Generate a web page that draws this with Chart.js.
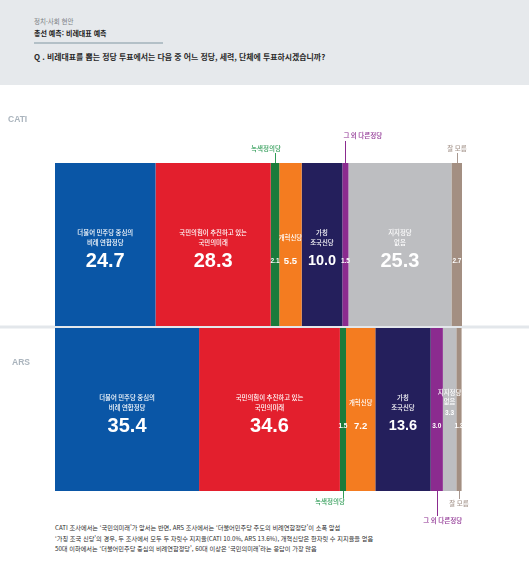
<!DOCTYPE html>
<html lang="ko">
<head>
<meta charset="utf-8">
<script src="https://cdn.jsdelivr.net/npm/chart.js@4.4.1/dist/chart.umd.min.js"></script>
<style>
  html, body { margin: 0; padding: 0; background: #fff; }
  body { width: 529px; height: 564px; position: relative; overflow: hidden; font-family: "Noto Sans CJK KR", sans-serif; }
  .band { position: absolute; left: 0; top: 0; width: 529px; height: 85px; background: #e6e9ec; }
  .t { position: absolute; white-space: nowrap; line-height: 1; }
  .cat { left: 34px; top: 18px; font-size: 6.5px; color: #7b7f84; }
  .title { left: 34px; top: 30px; font-size: 7px; font-weight: 700; color: #1b1b1b; }
  .rule { position: absolute; left: 34px; top: 42px; width: 129px; height: 2px; background: #b3c0c7; }
  .q { left: 34px; top: 53px; font-size: 7.9px; font-weight: 700; color: #2a2a2a; }
  .note { left: 55px; font-size: 6.2px; color: #2a2a2a; }
  #wrap { position: absolute; left: 0; top: 0; width: 529px; height: 564px; }
</style>
</head>
<body>
<div class="band"></div>
<div class="t cat">정치·사회 현안</div>
<div class="t title">총선 예측: 비례대표 예측</div>
<div class="rule"></div>
<div class="t q">Q . 비례대표를 뽑는 정당 투표에서는 다음 중 어느 정당, 세력, 단체에 투표하시겠습니까?</div>
<div class="t note" style="top:525px">CATI 조사에서는 ‘국민의미래’가 앞서는 반면, ARS 조사에서는 ‘더불어민주당 주도의 비례연합정당’이 소폭 앞섬</div>
<div class="t note" style="top:536px">‘가칭 조국 신당’의 경우, 두 조사에서 모두 두 자릿수 지지율(CATI 10.0%, ARS 13.6%), 개혁신당은 한자릿 수 지지율을 얻음</div>
<div class="t note" style="top:546px">50대 이하에서는 ‘더불어민주당 중심의 비례연합정당’, 60대 이상은 ‘국민의미래’라는 응답이 가장 많음</div>
<div id="wrap"><canvas id="chart"></canvas></div>
<script>
// 조사 방식
const surveys = ['CATI', 'ARS'];

// 정당 (안쪽 라벨은 줄 단위)
const parties = ['더불어 민주당 중심의 비례 연합정당', '국민의힘이 추진하고 있는 국민의미래', '녹색정의당', '개혁신당', '가칭 조국신당', '그 외 다른정당', '지지정당 없음', '잘 모름'];
const insideNames = [
  ['더불어 민주당 중심의', '비례 연합정당'],
  ['국민의힘이 추진하고 있는', '국민의미래'],
  null,
  ['개혁신당'],
  ['가칭', '조국신당'],
  null,
  ['지지정당', '없음'],
  null
];

const catiValues = [24.7, 28.3, 2.1, 5.5, 10.0, 1.5, 25.3, 2.7];
const arsValues = [35.4, 34.6, 1.5, 7.2, 13.6, 3.0, 3.3, 1.3];

const partyColors = ['#0a56a6', '#e31f2d', '#1b7b3b', '#f47c20', '#241f5c', '#8b2b8f', '#bdbec1', '#a38f82'];

// 바깥 라벨 (녹색정의당, 그 외 다른정당, 잘 모름)
const calloutColors = { 2: '#2f9c56', 5: '#8b2b8f', 7: '#a89890' };

const KR = '"Noto Sans CJK KR", sans-serif';
const NUM = '"Liberation Sans", Arial, sans-serif';

function valueFont(v) {
  if (v >= 20) return 'bold 20px ' + NUM;
  if (v >= 10) return 'bold 14.5px ' + NUM;
  if (v >= 5) return 'bold 9.5px ' + NUM;
  return 'bold 6.5px ' + NUM;
}

const barLabels = {
  id: 'barLabels',
  beforeDatasetsDraw(chart) {
    const ctx = chart.ctx;
    const bars = chart.getDatasetMeta(0).data;
    const b0 = bars[0].y + bars[0].height / 2;
    const t1 = bars[1].y - bars[1].height / 2;
    ctx.save();
    ctx.fillStyle = '#e3e7eb';
    ctx.fillRect(0, (b0 + t1) / 2 - 1.5, chart.width, 3);
    ctx.font = 'bold 8.5px ' + NUM;
    ctx.fillStyle = '#aab4bd';
    ctx.textBaseline = 'middle';
    ctx.textAlign = 'left';
    ctx.fillText(surveys[0], 8, bars[0].y - bars[0].height / 2 - 43);
    ctx.fillText(surveys[1], 12, bars[1].y - bars[1].height / 2 + 35);
    ctx.restore();
  },
  afterDatasetsDraw(chart) {
    const ctx = chart.ctx;
    ctx.save();
    ctx.textBaseline = 'middle';
    chart.data.datasets.forEach((ds, i) => {
      const meta = chart.getDatasetMeta(i);
      meta.data.forEach((bar, j) => {
        const p = bar.getProps(['x', 'y', 'base', 'height'], true);
        const cx = (p.x + p.base) / 2;
        const cy = p.y;
        const v = ds.data[j];
        const names = insideNames[i];
        ctx.fillStyle = '#ffffff';
        ctx.textAlign = 'center';
        let valueY = cy + 16.5;
        if (names) {
          ctx.font = '500 6.4px ' + KR;
          let ys;
          if (v < 5) { ys = [cy - 17, cy - 8]; valueY = cy + 3.5; }
          else if (names.length === 1) ys = [cy - 6.5];
          else ys = [cy - 11.5, cy - 1.5];
          names.forEach((n, k) => ctx.fillText(n, cx, ys[k]));
        }
        ctx.font = valueFont(v);
        ctx.fillText(v.toFixed(1), cx, valueY);

        // 바깥 라벨과 지시선
        const col = calloutColors[i];
        if (col) {
          const top = p.y - p.height / 2;
          const bot = p.y + p.height / 2;
          ctx.strokeStyle = col;
          ctx.fillStyle = col;
          ctx.lineWidth = 1;
          ctx.font = '500 6.5px ' + KR;
          let y1, y2, tx, ty, align;
          if (j === 0) {
            if (i === 2) { y1 = top - 10; y2 = top; tx = cx + 6; ty = top - 14; align = 'right'; }
            if (i === 5) { y1 = top - 22; y2 = top; tx = cx - 2; ty = top - 27; align = 'left'; }
            if (i === 7) { y1 = top - 10; y2 = top; tx = cx; ty = top - 14; align = 'center'; }
          } else {
            if (i === 2) { y1 = bot; y2 = bot + 7; tx = cx + 2; ty = bot + 11; align = 'right'; }
            if (i === 5) { y1 = bot; y2 = bot + 25; tx = cx + 6; ty = bot + 30; align = 'center'; }
            if (i === 7) { y1 = bot; y2 = bot + 8; tx = cx; ty = bot + 13; align = 'center'; }
          }
          ctx.beginPath();
          ctx.moveTo(Math.round(cx) + 0.5, y1);
          ctx.lineTo(Math.round(cx) + 0.5, y2);
          ctx.stroke();
          ctx.textAlign = align;
          ctx.fillText(parties[i], tx, ty);
        }
      });
    });
    ctx.restore();
  }
};

new Chart(document.getElementById('chart'), {
  type: 'bar',
  data: {
    labels: surveys,
    datasets: parties.map((name, i) => ({
      label: name,
      data: [catiValues[i], arsValues[i]],
      backgroundColor: partyColors[i],
      borderWidth: 0,
      barPercentage: 0.988,
      categoryPercentage: 1
    }))
  },
  options: {
    indexAxis: 'y',
    responsive: true,
    maintainAspectRatio: false,
    animation: false,
    layout: { padding: { left: 55, right: 67, top: 162, bottom: 72 } },
    scales: {
      x: { stacked: true, min: 0, max: 100, display: false },
      y: { stacked: true, display: false }
    },
    plugins: {
      legend: { display: false },
      tooltip: { enabled: false }
    }
  },
  plugins: [barLabels]
});
</script>
</body>
</html>
